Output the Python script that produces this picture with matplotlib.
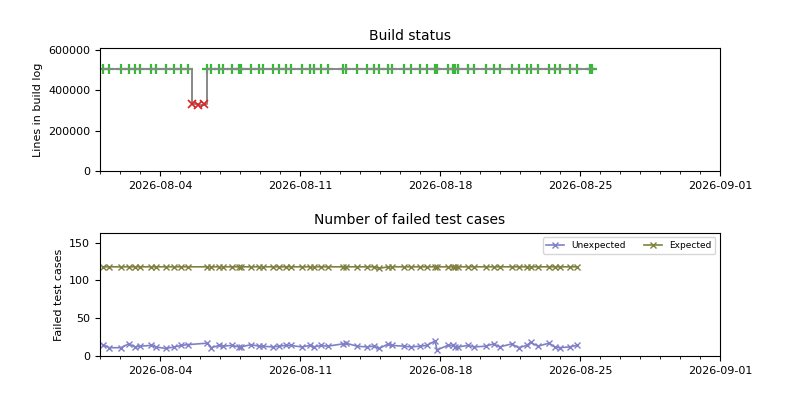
import matplotlib
matplotlib.use("Agg")
from matplotlib import pyplot as plt
import matplotlib.dates as mdates
import pandas as pd

# build runs: timestamp, lines in build log, passed?
build_times = [
    "2026-08-01 03:00", "2026-08-01 11:15", "2026-08-02 01:10", "2026-08-02 10:20",
    "2026-08-02 18:00", "2026-08-03 00:05", "2026-08-03 13:10", "2026-08-03 19:10",
    "2026-08-04 06:40", "2026-08-04 17:15", "2026-08-05 01:10", "2026-08-05 09:10",
    "2026-08-05 14:25", "2026-08-05 21:35", "2026-08-06 04:50",
    "2026-08-06 08:50", "2026-08-06 13:40", "2026-08-06 22:50", "2026-08-07 03:10",
    "2026-08-07 14:25", "2026-08-07 22:50", "2026-08-08 01:10", "2026-08-08 13:10",
    "2026-08-08 22:50", "2026-08-09 03:10", "2026-08-09 15:10", "2026-08-09 22:50",
    "2026-08-10 07:10", "2026-08-10 12:45", "2026-08-11 01:55", "2026-08-11 12:00",
    "2026-08-11 16:20", "2026-08-12 01:10", "2026-08-12 09:10", "2026-08-13 03:10",
    "2026-08-13 07:10", "2026-08-13 20:25", "2026-08-14 07:55", "2026-08-14 16:50",
    "2026-08-14 22:50", "2026-08-15 10:05", "2026-08-15 13:55", "2026-08-16 04:50",
    "2026-08-16 13:10", "2026-08-17 00:00", "2026-08-17 08:25", "2026-08-17 18:00",
    "2026-08-17 20:25", "2026-08-18 09:10", "2026-08-18 15:10", "2026-08-18 17:30",
    "2026-08-18 22:05", "2026-08-19 09:10", "2026-08-19 17:15", "2026-08-20 06:40",
    "2026-08-20 16:20", "2026-08-20 23:30", "2026-08-21 13:55", "2026-08-21 22:20",
    "2026-08-22 07:55", "2026-08-22 12:45", "2026-08-22 21:35", "2026-08-23 10:50",
    "2026-08-23 17:30", "2026-08-23 23:30", "2026-08-24 11:30", "2026-08-24 19:55",
    "2026-08-25 12:00", "2026-08-25 14:25",
]
build_lines = [
    507000, 506500, 507200, 506800, 507500, 507000, 506600, 507300,
    507100, 506900, 507400, 507000,
    334000, 330000, 333000,
    507600, 507200, 506800, 507300, 507000, 506700, 507500, 507100,
    507400, 506900, 507200, 507000, 506600, 507300, 507100, 507500,
    506800, 507200, 507000, 507400, 506900, 507100, 507300, 506700,
    507200, 507000, 507500, 506800, 507100, 507300, 507000, 506900,
    507400, 507200, 507100, 506800, 507300, 507000, 507500, 507100,
    506900, 507200, 507400, 507000, 506800, 507300, 507100, 507000,
    507200, 506900, 507400, 507100, 507300, 507000,
]
build_ok = [True] * 12 + [False] * 3 + [True] * 54

# test runs (every successful build except the last two)
unexpected = [
    15, 11, 11, 16, 12, 13, 14, 12, 10, 12, 14, 15,
    17, 11, 14, 13, 14, 12, 12, 15, 13,
    13, 12, 13, 14, 14, 12, 14, 12, 14, 13, 16, 17, 13, 12, 13, 10, 16, 14, 13, 12, 13,
    14, 20, 8, 14, 14, 12, 12, 14, 12, 13, 16, 12, 16, 11, 14, 18, 13, 17, 12, 11, 12, 14,
]
expected = [118] * 36 + [116] + [118] * 27

t = pd.to_datetime(build_times)
ok_t = [x for x, o in zip(t, build_ok) if o]
ok_l = [v for v, o in zip(build_lines, build_ok) if o]
bad_t = [x for x, o in zip(t, build_ok) if not o]
bad_l = [v for v, o in zip(build_lines, build_ok) if not o]
test_t = ok_t[:len(unexpected)]

fig, (ax1, ax2) = plt.subplots(2, 1, figsize=(8, 4), dpi=100)
plt.subplots_adjust(hspace=0.5)

ax1.plot(ok_t, ok_l, '+', color='#33bb33', markersize=7, markeredgewidth=1.6)
ax1.plot(t, build_lines, drawstyle='steps-post', color='#888888', linewidth=1.4)
ax1.plot(bad_t, bad_l, 'x', color='#dd2222', markersize=6, markeredgewidth=1.2)
ax1.set_ylim(0, 610000)
ax1.set_yticks([0, 200000, 400000, 600000])
ax1.set_ylabel('Lines in build log', fontsize=8)
ax1.set_title('Build status', fontsize=10)

ax2.plot(test_t, unexpected, 'x-', color='#8080c8', label='Unexpected', markersize=5, linewidth=1.2)
ax2.plot(test_t, expected, 'x-', color='#808040', label='Expected', markersize=5, linewidth=1.2)
ax2.set_ylim(0, 163)
ax2.set_yticks([0, 50, 100, 150])
ax2.set_ylabel('Failed test cases', fontsize=8)
ax2.set_title('Number of failed test cases', fontsize=10)
ax2.legend(loc='upper right', ncol=2, fontsize=6.5)

for ax in (ax1, ax2):
    ax.set_xlim(pd.Timestamp("2026-08-01"), pd.Timestamp("2026-09-01"))
    ax.xaxis.set_major_locator(mdates.WeekdayLocator(byweekday=mdates.TU))
    ax.xaxis.set_minor_locator(mdates.DayLocator())
    ax.xaxis.set_major_formatter(mdates.DateFormatter('%Y-%m-%d'))
    ax.tick_params(labelsize=8)

plt.savefig('out.png')
